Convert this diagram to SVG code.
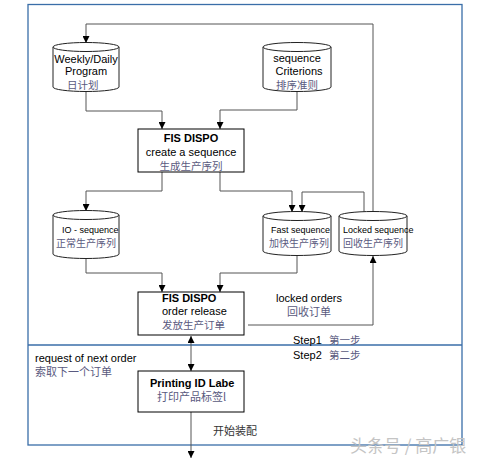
<svg xmlns="http://www.w3.org/2000/svg" width="480" height="459" viewBox="0 0 480 459">
<defs>
<marker id="ah" viewBox="0 0 10 10" refX="10" refY="5" markerWidth="7" markerHeight="7" markerUnits="userSpaceOnUse" orient="auto-start-reverse">
<path d="M0,0 L10,5 L0,10 z" fill="#000"/>
</marker>
<style>
.en{font-family:"Liberation Sans",Arial,sans-serif;fill:#000}
.b{font-weight:bold}
.zh{font-family:"Noto Sans CJK SC",sans-serif;fill:#5a5a80}
.box{fill:#fff;stroke:#000;stroke-width:1}
.cyl{fill:#fff;stroke:#222;stroke-width:1}
.ln{fill:none;stroke:#555;stroke-width:1}
.frame{fill:none;stroke:#3a6ea8;stroke-width:1.3}
</style>
</defs>
<rect width="480" height="459" fill="#fff"/>
<g id="frame">
<rect class="frame" x="28" y="4.5" width="434" height="440.5"/>
<line class="frame" x1="28" y1="345" x2="462" y2="345"/>
</g>
<g id="connectors">
<polyline class="ln" points="373,212 373,24 86,24 86,43" marker-end="url(#ah)"/>
<polyline class="ln" points="86,91 86,111 162,111 162,129" marker-end="url(#ah)"/>
<polyline class="ln" points="297,91 297,110 220,110 220,129" marker-end="url(#ah)"/>
<polyline class="ln" points="162,172 162,191 86,191 86,211" marker-end="url(#ah)"/>
<polyline class="ln" points="220,172 220,191 292,191 292,212" marker-end="url(#ah)"/>
<polyline class="ln" points="364,212 364,192 302,192 302,212" marker-end="url(#ah)"/>
<polyline class="ln" points="86,258 86,273 162,273 162,292" marker-end="url(#ah)"/>
<polyline class="ln" points="297,255 297,273 220,273 220,292" marker-end="url(#ah)"/>
<polyline class="ln" points="248,325 373,325 373,256" marker-end="url(#ah)"/>
<line class="ln" x1="191" y1="336" x2="191" y2="371" stroke="#222" marker-start="url(#ah)" marker-end="url(#ah)"/>
<line class="ln" x1="191" y1="412" x2="191" y2="458" marker-end="url(#ah)"/>
</g>
<g id="weekly">
<path class="cyl" d="M53,47 L53,87 A33,4.5 0 0 0 119,87 L119,47"/>
<ellipse class="cyl" cx="86" cy="47" rx="33" ry="4.5"/>
<text class="en" x="86" y="63" font-size="11" text-anchor="middle">Weekly/Daily</text>
<text class="en" x="86" y="75" font-size="11" text-anchor="middle">Program</text>
<text class="zh" x="67" y="88.5" font-size="10.5">日计划</text>
</g>
<g id="criterions">
<path class="cyl" d="M263,47 L263,87 A34,4.5 0 0 0 331,87 L331,47"/>
<ellipse class="cyl" cx="297" cy="47" rx="34" ry="4.5"/>
<text class="en" x="297" y="62" font-size="11" text-anchor="middle">sequence</text>
<text class="en" x="299" y="75" font-size="11" text-anchor="middle">Criterions</text>
<text class="zh" x="297" y="88.5" font-size="10.5" text-anchor="middle">排序准则</text>
</g>
<g id="create">
<rect class="box" x="138" y="129" width="106" height="43"/>
<text class="en b" x="191" y="142" font-size="11" text-anchor="middle">FIS DISPO</text>
<text class="en" x="191" y="155.5" font-size="11" text-anchor="middle">create a sequence</text>
<text class="zh" x="191" y="169.5" font-size="10.5" text-anchor="middle">生成生产序列</text>
</g>
<g id="io">
<path class="cyl" d="M53,215 L53,254 A33,4.5 0 0 0 119,254 L119,215"/>
<ellipse class="cyl" cx="86" cy="215" rx="33" ry="4.5"/>
<text class="en" x="62" y="233" font-size="9">IO - sequence</text>
<text class="zh" x="56" y="247" font-size="10">正常生产序列</text>
</g>
<g id="fast">
<path class="cyl" d="M263,216 L263,251 A34,4.5 0 0 0 331,251 L331,216"/>
<ellipse class="cyl" cx="297" cy="216" rx="34" ry="4.5"/>
<text class="en" x="271" y="233" font-size="9">Fast sequence</text>
<text class="zh" x="269" y="247" font-size="10">加快生产序列</text>
</g>
<g id="locked">
<path class="cyl" d="M339,216 L339,251 A34,4.5 0 0 0 407,251 L407,216"/>
<ellipse class="cyl" cx="373" cy="216" rx="34" ry="4.5"/>
<text class="en" x="343" y="233" font-size="9">Locked sequence</text>
<text class="zh" x="343" y="247" font-size="10">回收生产序列</text>
</g>
<g id="release">
<rect class="box" x="138" y="292" width="106" height="43"/>
<text class="en b" x="162" y="302" font-size="11">FIS DISPO</text>
<text class="en" x="162" y="314.5" font-size="11">order release</text>
<text class="zh" x="162" y="328.5" font-size="10.5">发放生产订单</text>
</g>
<g id="printing">
<rect class="box" x="138" y="371" width="106" height="41"/>
<text class="en b" x="150" y="387" font-size="11">Printing ID Labe</text>
<text class="zh" x="157" y="401" font-size="11">打印产品标签l</text>
</g>
<g id="labels">
<text class="en" x="276" y="302" font-size="11">locked orders</text>
<text class="zh" x="287" y="316" font-size="11">回收订单</text>
<text class="en" x="293" y="344" font-size="11">Step1</text>
<text class="zh" x="329" y="344" font-size="10.5">第一步</text>
<text class="en" x="293" y="358.5" font-size="11">Step2</text>
<text class="zh" x="329" y="358.5" font-size="10.5">第二步</text>
<text class="en" x="35" y="362" font-size="11">request of next order</text>
<text class="zh" x="35" y="376" font-size="11">索取下一个订单</text>
<text class="zh" x="213" y="435" font-size="11" style="fill:#333">开始装配</text>
<text x="350" y="452" font-size="17" font-family="Noto Sans CJK SC,sans-serif" fill="#c4c4c4">头条号 / 高广银</text>
</g>
</svg>
